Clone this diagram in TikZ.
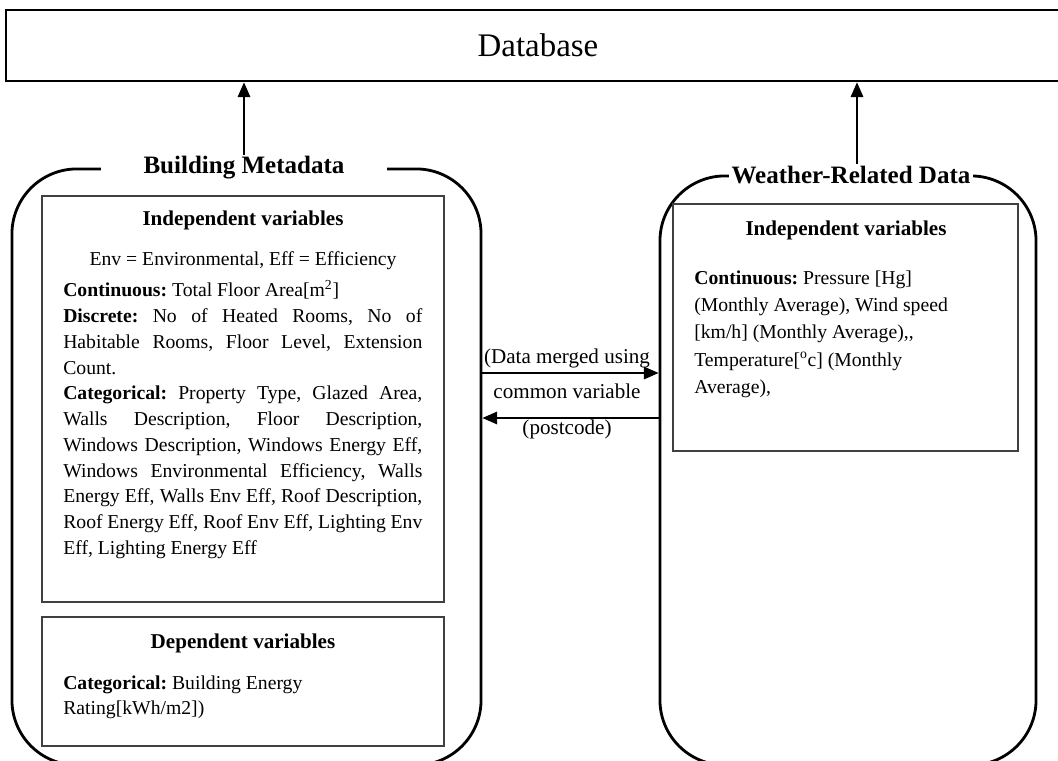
\documentclass[tikz,border=0pt]{standalone}
\usepackage{fontspec}
\setmainfont{Liberation Serif}
\usetikzlibrary{arrows.meta}
\setlength{\parindent}{0pt}
\frenchspacing

\begin{document}
\begin{tikzpicture}[
          x=0.025cm, y=-0.025cm,
          frame/.style={draw,line width=2pt,rounded corners=1.625cm},
          varbox/.style={draw=black!75,line width=1pt},
          link/.style={-{Triangle[length=10.5pt,width=9pt]},line width=0.9pt},
          title/.style={fill=white,inner ysep=1pt,font=\fontsize{17.8}{21}\selectfont\bfseries},
          head/.style={anchor=base,inner sep=0pt,font=\fontsize{15}{18}\selectfont\bfseries},
          plain/.style={anchor=base,inner sep=0pt,font=\fontsize{14}{18}\selectfont},
          body/.style={anchor=base west,inner sep=0pt,font=\fontsize{14}{18.3}\selectfont},
        ]

        \clip (0,0) rectangle (1058,761);

        \node[draw,line width=1.9pt,minimum width=26.6cm,minimum height=1.775cm,
              font=\fontsize{23.4}{28}\selectfont] (db) at (538,45.5) {Database};

        \node[frame,minimum width=11.725cm,minimum height=14.9cm] (bframe) at (246.5,467) {};
        \node[frame,minimum width=9.4cm,minimum height=14.725cm] (wframe) at (848,470.5) {};

        \node[title,inner xsep=1.07cm] (bmeta) at (244,168) {Building Metadata};
        \node[title,inner xsep=0.07cm] (wdata) at (851,175) {Weather-Related Data};

        \draw[link] (bmeta.north) -- (bmeta.north |- db.south);
        \draw[link] ([xshift=0.15cm]wdata.north) -- ([xshift=0.15cm]wdata.north |- db.south);

        \node[varbox,minimum width=10.05cm,minimum height=10.15cm] (indep) at (243,399) {};
        \node[varbox,minimum width=10.05cm,minimum height=3.225cm] (dep) at (243,681.5) {};
        \node[varbox,minimum width=8.625cm,minimum height=6.175cm] (windep) at (845.5,327.5) {};

        \node[head] (indephead) at (243,226) {Independent variables};
        \node[plain] (abbrev) at (243,266) {Env = Environmental, Eff = Efficiency};
        \node[body,text width=8.975cm,align=justify] (indeptext) at (63,297) {%
          \textbf{Continuous:} Total Floor Area[m\textsuperscript{2}]\par
          \textbf{Discrete:} No of Heated Rooms, No of\linebreak Habitable Rooms, Floor Level, Extension\linebreak Count.\par
          \textbf{Categorical:} Property Type, Glazed Area,\linebreak Walls Description, Floor Description,\linebreak
          Windows Description, Windows Energy Eff,\linebreak Windows Environmental Efficiency, Walls\linebreak
          Energy Eff, Walls Env Eff, Roof Description,\linebreak Roof Energy Eff, Roof Env Eff, Lighting Env\linebreak
          Eff, Lighting Energy Eff};

        \node[head] (dephead) at (243,648) {Dependent variables};
        \node[body,text width=8.975cm,align=flush left] (deptext) at (63,689) {\textbf{Categorical:} Building Energy\\Rating[kWh/m2])};

        \node[head] (windephead) at (846,236) {Independent variables};
        \node[body,text width=7.8cm,align=flush left,font=\fontsize{14}{19.5}\selectfont] (windeptext) at (694,284) {%
          \textbf{Continuous:} Pressure [Hg]\\(Monthly Average), Wind speed\\{}[km/h] (Monthly Average),{},\\
          Temperature[\textsuperscript{o}c] (Monthly\\Average),};

        \path (567,373) coordinate (mrgup) (567,418) coordinate (mrgdown);
        \draw[link] (bframe.east |- mrgup) -- (wframe.west |- mrgup);
        \draw[link] (wframe.west |- mrgdown) -- (bframe.east |- mrgdown);

        \node[plain,font=\fontsize{15}{18}\selectfont] (mrgtexta) at (567,363) {(Data merged using};
        \node[plain,font=\fontsize{15}{18}\selectfont] (mrgtextb) at (567,398) {common variable};
        \node[plain,font=\fontsize{15}{18}\selectfont] (mrgtextc) at (567,434) {(postcode)};

      \end{tikzpicture}
\end{document}
